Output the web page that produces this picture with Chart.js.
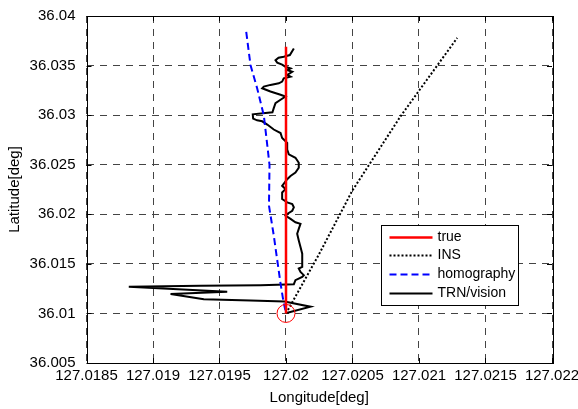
<!DOCTYPE html>
<html><head><meta charset="utf-8">
<script src="https://cdn.jsdelivr.net/npm/chart.js@4.4.0/dist/chart.umd.min.js"></script>
<style>html,body{margin:0;padding:0;background:#fff;overflow:hidden;width:578px;height:409px}canvas{display:block;margin-top:-4px}</style>
</head><body>
<canvas id="c" width="600" height="413" style="width:600px;height:413px"></canvas>
<script>
const xTickLabels = ['127.0185','127.019','127.0195','127.02','127.0205','127.021','127.0215','127.022'];
const yTickLabels = ['36.005','36.01','36.015','36.02','36.025','36.03','36.035','36.04'];
const seriesNames = ['true','INS','homography','TRN/vision'];
const xTitle = 'Longitude[deg]';
const yTitle = 'Latitude[deg]';

const trueLon = [127.02, 127.02];
const trueLat = [36.01, 36.0369];

const insLon = [127.02, 127.020244, 127.020498, 127.020861, 127.021287];
const insLat = [36.01, 36.01586, 36.02237, 36.02988, 36.03779];

const homLon = [127.019701, 127.019733, 127.019783, 127.019833, 127.019853, 127.019876, 127.019872, 127.019908, 127.019929, 127.019959, 127.019979, 127.02];
const homLat = [36.03839, 36.03506, 36.03271, 36.02998, 36.0277, 36.02497, 36.02087, 36.01786, 36.01586, 36.01302, 36.01135, 36.01];

const trnLon = [127.020004, 127.020184, 127.019989, 127.019733, 127.019382, 127.019132, 127.019558, 127.018818, 127.019357, 127.019808,
  127.020059, 127.020071, 127.020122, 127.020134, 127.020109, 127.020096, 127.020122, 127.020122, 127.020109, 127.020096,
  127.020084, 127.020096, 127.020109, 127.020071, 127.020034, 127.019996, 127.020009, 127.020047, 127.020059, 127.020047,
  127.020009, 127.019971, 127.019971, 127.019996, 127.019971, 127.020009, 127.020034, 127.020071, 127.020096, 127.020096,
  127.020071, 127.020021, 127.020009, 127.020009, 127.019983, 127.019971, 127.019959, 127.019908, 127.019859, 127.019821,
  127.019783, 127.019753, 127.01975, 127.019898, 127.019908, 127.019921, 127.019959, 127.019996, 127.019959, 127.019883,
  127.019821, 127.019833, 127.019883, 127.019946, 127.019971, 127.019983, 127.020034, 127.020009, 127.020047, 127.020009,
  127.020034, 127.019996, 127.019971, 127.019934, 127.019921, 127.019944, 127.019983, 127.020029, 127.020059];
const trnLat = [36.01005, 36.01068, 36.0112, 36.0113, 36.01143, 36.01195, 36.01218, 36.01268, 36.0128, 36.01285,
  36.01295, 36.01335, 36.01369, 36.01386, 36.01419, 36.01453, 36.01469, 36.01603, 36.01669, 36.01736,
  36.01803, 36.01853, 36.01903, 36.01919, 36.01953, 36.01986, 36.02003, 36.02036, 36.0207, 36.02104,
  36.0212, 36.02154, 36.0222, 36.02254, 36.02287, 36.02354, 36.02387, 36.0242, 36.0247, 36.0252,
  36.0257, 36.02604, 36.02654, 36.0272, 36.02754, 36.0277, 36.0282, 36.02855, 36.02905, 36.02938,
  36.02948, 36.02965, 36.03008, 36.03028, 36.03071, 36.03121, 36.03155, 36.03188, 36.03205, 36.03238,
  36.03271, 36.03288, 36.03305, 36.03321, 36.03338, 36.03371, 36.03388, 36.03405, 36.03438, 36.03455,
  36.03471, 36.03488, 36.03509, 36.03529, 36.03554, 36.03579, 36.03589, 36.03606, 36.03672];

const startLon = [127.02];
const startLat = [36.01];

const pts = (xs, ys) => xs.map((x, i) => ({x: x, y: ys[i]}));
const FONT = 'Liberation Sans, Arial, Helvetica, sans-serif';

const frame = {
  id: 'frame',
  afterDatasetsDraw(chart) {
    const {ctx, chartArea: a, scales} = chart;
    ctx.save();
    ctx.strokeStyle = '#000';
    ctx.lineWidth = 1;
    ctx.setLineDash([]);
    ctx.strokeRect(Math.round(a.left) + 0.5, Math.round(a.top) + 0.5, Math.round(a.right - a.left), Math.round(a.bottom - a.top));
    const tl = 5;
    ctx.beginPath();
    scales.x.ticks.forEach(t => {
      const px = Math.round(scales.x.getPixelForValue(t.value)) + 0.5;
      ctx.moveTo(px, a.bottom); ctx.lineTo(px, a.bottom - tl);
      ctx.moveTo(px, a.top); ctx.lineTo(px, a.top + tl);
    });
    scales.y.ticks.forEach(t => {
      const py = Math.round(scales.y.getPixelForValue(t.value)) + 0.5;
      ctx.moveTo(a.left, py); ctx.lineTo(a.left + tl, py);
      ctx.moveTo(a.right, py); ctx.lineTo(a.right - tl, py);
    });
    ctx.stroke();

    // legend box
    const x0 = Math.round(a.right - 171) + 0.5, y0 = Math.round(a.bottom - 138) + 0.5, w = 137, h = 80;
    ctx.fillStyle = '#fff';
    ctx.fillRect(x0, y0, w, h);
    ctx.strokeRect(x0, y0, w, h);
    ctx.font = '14px ' + FONT;
    ctx.textBaseline = 'middle';
    ctx.textAlign = 'left';
    [0, 1, 2, 3].forEach((di, r) => {
      const ds = chart.data.datasets[di];
      const yy = Math.round(y0 + 11 + r * 18.9) + 0.5;
      ctx.save();
      ctx.strokeStyle = ds.borderColor;
      ctx.lineWidth = ds.borderWidth;
      ctx.setLineDash(ds.borderDash || []);
      ctx.beginPath();
      ctx.moveTo(x0 + 8, yy); ctx.lineTo(x0 + 51, yy);
      ctx.stroke();
      ctx.restore();
      ctx.fillStyle = '#000';
      ctx.fillText(ds.label, x0 + 56, yy);
    });
    ctx.restore();
  }
};

new Chart(document.getElementById('c'), {
  type: 'scatter',
  data: {
    datasets: [
      {label: seriesNames[0], data: pts(trueLon, trueLat), showLine: true, borderColor: '#ff0000', borderWidth: 2.5, pointRadius: 0, order: 1},
      {label: seriesNames[1], data: pts(insLon, insLat), showLine: true, borderColor: '#000', borderWidth: 2, borderDash: [2, 2], pointRadius: 0, order: 3},
      {label: seriesNames[2], data: pts(homLon, homLat), showLine: true, borderColor: '#0000ff', borderWidth: 2, borderDash: [7, 4], pointRadius: 0, order: 4},
      {label: seriesNames[3], data: pts(trnLon, trnLat), showLine: true, borderColor: '#000', borderWidth: 2, pointRadius: 0, order: 5},
      {label: 'start', data: pts(startLon, startLat), showLine: false, pointRadius: 9, pointBorderColor: '#ff0000', pointBackgroundColor: 'rgba(0,0,0,0)', pointBorderWidth: 1, order: 0}
    ]
  },
  options: {
    responsive: false,
    animation: false,
    devicePixelRatio: 1,
    layout: {padding: {top: 10, right: 48, left: 0, bottom: 0}},
    plugins: {legend: {display: false}, tooltip: {enabled: false}},
    scales: {
      x: {
        type: 'linear', min: 127.0185, max: 127.022,
        afterBuildTicks: s => { s.ticks = xTickLabels.map(v => ({value: parseFloat(v)})); },
        afterFit: s => { s.height = 46; },
        grid: {color: '#444', lineWidth: 1, drawTicks: false},
        border: {display: false, dash: [7, 6]},
        ticks: {autoSkip: false, maxRotation: 0, padding: 4, color: '#000', font: {family: FONT, size: 15},
          callback: (v, i) => xTickLabels[i]},
        title: {display: true, text: xTitle, color: '#000', font: {family: FONT, size: 15}, padding: {top: 0, bottom: 2}}
      },
      y: {
        type: 'linear', min: 36.005, max: 36.04,
        afterBuildTicks: s => { s.ticks = yTickLabels.map(v => ({value: parseFloat(v)})); },
        afterFit: s => { s.width = 86.5; },
        grid: {color: '#444', lineWidth: 1, drawTicks: false},
        border: {display: false, dash: [7, 6]},
        ticks: {autoSkip: false, padding: 11, color: '#000', font: {family: FONT, size: 15},
          callback: (v, i) => yTickLabels[i]},
        title: {display: true, text: yTitle, color: '#000', font: {family: FONT, size: 15}, padding: {top: 6, bottom: 0}}
      }
    }
  },
  plugins: [frame]
});
</script>
</body></html>
